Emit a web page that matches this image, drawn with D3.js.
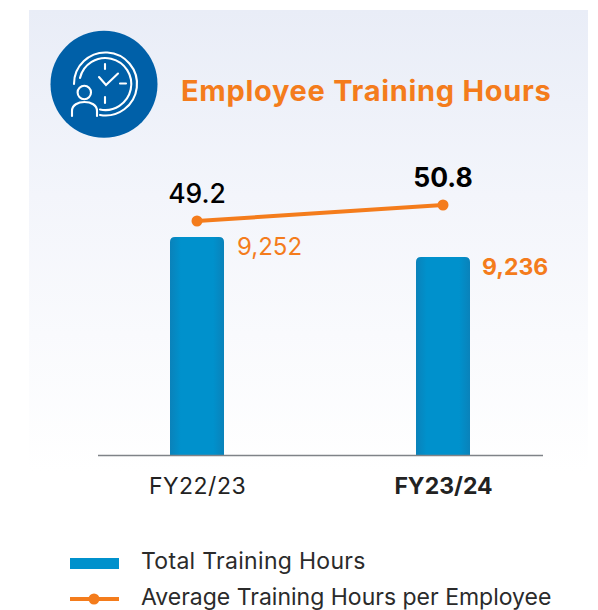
<!DOCTYPE html>
<html>
<head>
<meta charset="utf-8">
<script src="https://cdn.jsdelivr.net/npm/d3@7"></script>
<style>
html, body { margin: 0; padding: 0; background: #fff; }
svg { display: block; font-family: Inter, "Open Sans", sans-serif; }
</style>
</head>
<body>
<svg></svg>
<script>
const categories = ["FY22/23", "FY23/24"];
const totalHours = [9252, 9236];
const avgHours = [49.2, 50.8];
const legendLabels = ["Total Training Hours", "Average Training Hours per Employee"];

const orange = "#f47c1c";
const svg = d3.select("svg").attr("width", 598).attr("height", 610);

// panel background and bar shading
const defs = svg.append("defs");
const panelGrad = defs.append("linearGradient").attr("id", "panel")
    .attr("x1", 0).attr("x2", 0).attr("y1", 0).attr("y2", 1);
panelGrad.append("stop").attr("offset", 0).attr("stop-color", "#e9edf7");
panelGrad.append("stop").attr("offset", 0.4).attr("stop-color", "#f3f5fb");
panelGrad.append("stop").attr("offset", 1).attr("stop-color", "#ffffff");
const barGrad = defs.append("linearGradient").attr("id", "bar");
barGrad.append("stop").attr("offset", 0).attr("stop-color", "#0a82ba");
barGrad.append("stop").attr("offset", 0.2).attr("stop-color", "#0091cc");
barGrad.append("stop").attr("offset", 0.8).attr("stop-color", "#0091cc");
barGrad.append("stop").attr("offset", 1).attr("stop-color", "#0a82ba");

svg.append("rect").attr("x", 29).attr("y", 10).attr("width", 559).attr("height", 462)
    .attr("fill", "url(#panel)");

// icon
const icon = svg.append("g").attr("fill", "none").attr("stroke", "#fff")
    .attr("stroke-width", 2.1).attr("stroke-linecap", "round");
icon.append("circle").attr("cx", 104).attr("cy", 84.3).attr("r", 53.5)
    .attr("fill", "#0060a8").attr("stroke", "none");
icon.append("path").attr("d", "M74,84A31.5,31.5 0 1 1 100,115");
icon.append("path").attr("d", "M80,78A26,26 0 1 1 100,109.5");
icon.append("path").attr("d", "M105,64V69M105,97V103M120,83.5H126");
icon.append("path").attr("d", "M99,77L106,85L118,73.5");
icon.append("circle").attr("cx", 84.3).attr("cy", 92.5).attr("r", 6.7);
icon.append("path").attr("d", "M72,116V111C72,105 78,102 84.5,102C91,102 97,105 97,111V116");

// title
svg.append("text").attr("x", 181).attr("y", 101)
    .attr("font-size", 29).attr("font-weight", 700).attr("fill", orange)
    .attr("letter-spacing", 0.7)
    .text("Employee Training Hours");

// scales
const x = d3.scalePoint().domain(categories).range([197, 443]);
const y = d3.scaleLinear().domain([9077.6, 9252]).range([455, 237]);
const yLine = d3.scaleLinear().domain([48, 52]).range([233, 193]);
const barWidth = 54;

// bars with rounded top corners
const r = 5;
svg.selectAll(".bar").data(categories).enter().append("path")
    .attr("class", "bar")
    .attr("fill", "url(#bar)")
    .attr("d", (d, i) => {
        const l = x(d) - barWidth / 2, t = y(totalHours[i]), b = y.range()[0];
        return "M" + l + "," + b + "V" + (t + r) + "Q" + l + "," + t + " " + (l + r) + "," + t +
            "H" + (l + barWidth - r) + "Q" + (l + barWidth) + "," + t + " " + (l + barWidth) + "," + (t + r) +
            "V" + b + "Z";
    });

// x axis
const axis = svg.append("g").attr("transform", "translate(0,455)")
    .call(d3.axisBottom(x).tickSize(0).tickPadding(23));
axis.select(".domain").remove();
svg.append("line").attr("x1", 98).attr("x2", 543).attr("y1", 455.5).attr("y2", 455.5)
    .attr("stroke", "#7f8388").attr("stroke-width", 1.3);
axis.selectAll("text")
    .attr("font-family", "Inter, sans-serif").attr("font-size", 23).attr("fill", "#222")
    .attr("letter-spacing", (d, i) => i === 1 ? 0 : 0.5)
    .attr("font-weight", (d, i) => i === 1 ? 700 : 400);

// line
const line = d3.line().x(d => x(d.c)).y(d => yLine(d.v));
const linePts = categories.map((c, i) => ({c: c, v: avgHours[i]}));
svg.append("path").datum(linePts).attr("d", line)
    .attr("fill", "none").attr("stroke", orange).attr("stroke-width", 4);
svg.selectAll(".pt").data(linePts).enter().append("circle")
    .attr("class", "pt").attr("cx", d => x(d.c)).attr("cy", d => yLine(d.v))
    .attr("r", 5.5).attr("fill", orange);

// value labels
svg.selectAll(".avg").data(linePts).enter().append("text")
    .attr("class", "avg")
    .attr("x", d => x(d.c))
    .attr("y", d => yLine(d.v) - 18)
    .attr("text-anchor", "middle")
    .attr("font-size", 26.5).attr("fill", "#000")
    .attr("font-weight", (d, i) => i === 1 ? 700 : 500)
    .text(d => d.v.toFixed(1));
svg.selectAll(".tot").data(categories).enter().append("text")
    .attr("class", "tot")
    .attr("x", (d, i) => x(d) + 40 - i)
    .attr("y", (d, i) => y(totalHours[i]) + 18)
    .attr("font-size", (d, i) => i === 1 ? 23 : 24).attr("fill", orange)
    .attr("font-weight", (d, i) => i === 1 ? 700 : 400)
    .text((d, i) => d3.format(",")(totalHours[i]));

// legend
svg.append("rect").attr("x", 70).attr("y", 558).attr("width", 49).attr("height", 11).attr("fill", "#0091cc");
svg.append("line").attr("x1", 70).attr("x2", 119).attr("y1", 599).attr("y2", 599)
    .attr("stroke", orange).attr("stroke-width", 4);
svg.append("circle").attr("cx", 94).attr("cy", 599).attr("r", 5.5).attr("fill", orange);
svg.selectAll(".leg").data(legendLabels).enter().append("text")
    .attr("class", "leg").attr("x", 141).attr("y", (d, i) => 569 + i * 36)
    .attr("font-size", 23).attr("fill", "#2b2b2b")
    .attr("letter-spacing", (d, i) => i === 0 ? 0.3 : 0)
    .text(d => d);
</script>
</body>
</html>
